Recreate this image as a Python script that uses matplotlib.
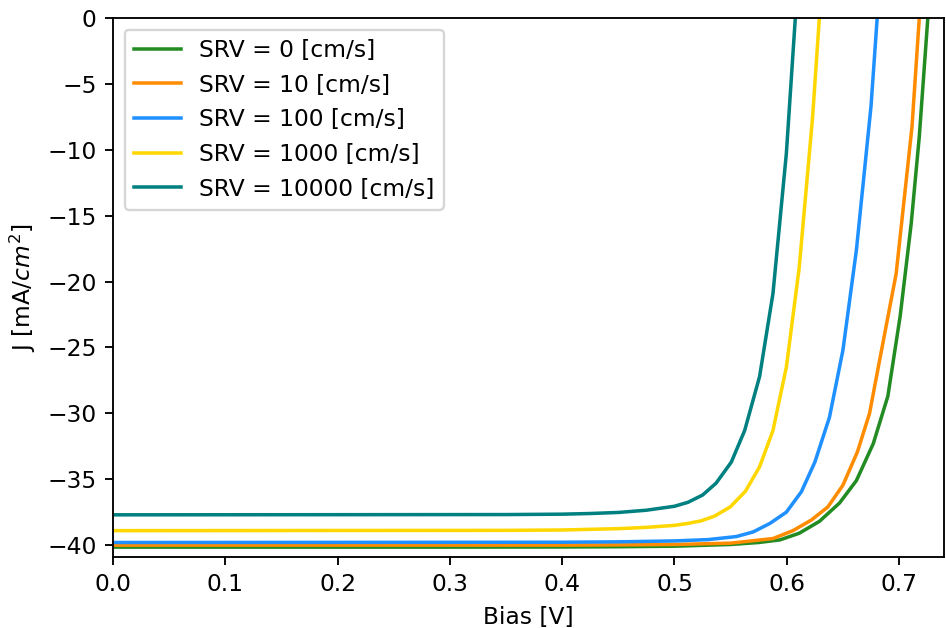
import numpy as np
import matplotlib
matplotlib.use("Agg")
import matplotlib.pyplot as plt

# J-V curves, one pair of lists per SRV value
srv_labels = ["SRV = 0 [cm/s]", "SRV = 10 [cm/s]", "SRV = 100 [cm/s]",
              "SRV = 1000 [cm/s]", "SRV = 10000 [cm/s]"]
colors = ["forestgreen", "darkorange", "dodgerblue", "gold", "teal"]

v_srv0 = [0.0, 0.3, 0.4, 0.45, 0.5, 0.55, 0.575, 0.594, 0.611, 0.629, 0.647, 0.662,
          0.677, 0.69, 0.701, 0.7108, 0.718, 0.7256]
j_srv0 = [-40.15, -40.15, -40.14, -40.12, -40.08, -39.95, -39.8, -39.6, -39.1, -38.2, -36.8, -35.1,
          -32.3, -28.7, -22.6, -15.6, -9.0, 0.0]

v_srv10 = [0.0, 0.4, 0.45, 0.5, 0.55, 0.5877, 0.6055, 0.6218, 0.6366, 0.65, 0.663,
           0.6737, 0.6826, 0.69, 0.6974, 0.7115, 0.718]
j_srv10 = [-40.0, -40.0, -39.98, -39.95, -39.85, -39.5, -38.9, -38.1, -37.1, -35.45, -32.9,
           -30.0, -26.0, -22.7, -19.4, -8.25, 0.0]

v_srv100 = [0.0, 0.4, 0.45, 0.5, 0.53, 0.555, 0.57, 0.585, 0.5996, 0.613, 0.625, 0.638,
            0.65, 0.662, 0.675, 0.6805]
j_srv100 = [-39.8, -39.78, -39.75, -39.68, -39.58, -39.35, -39.0, -38.35, -37.5, -35.95, -33.7, -30.3,
            -25.2, -17.6, -6.7, 0.0]

v_srv1000 = [0.0, 0.35, 0.4, 0.45, 0.475, 0.5, 0.512, 0.524, 0.5356, 0.5497, 0.5633, 0.5758, 0.5877,
             0.5996, 0.611, 0.623, 0.629]
j_srv1000 = [-38.9, -38.88, -38.85, -38.75, -38.65, -38.5, -38.35, -38.15, -37.8, -37.1, -35.9, -34.05,
             -31.3, -26.5, -19.0, -7.5, 0.0]

v_srv10000 = [0.0, 0.35, 0.4, 0.425, 0.45, 0.475, 0.5, 0.512, 0.525, 0.537, 0.5506, 0.5625, 0.5758,
              0.5877, 0.5996, 0.6076]
j_srv10000 = [-37.7, -37.68, -37.65, -37.6, -37.52, -37.35, -37.05, -36.75, -36.2, -35.3, -33.7, -31.3,
              -27.2, -20.9, -10.3, 0.0]

voltages = [v_srv0, v_srv10, v_srv100, v_srv1000, v_srv10000]
currents = [j_srv0, j_srv10, j_srv100, j_srv1000, j_srv10000]

dpi = 168
fig = plt.figure(figsize=(946 / dpi, 628 / dpi), dpi=dpi)
ax = fig.add_axes([113 / 946, 1 - 557 / 628, (944 - 113) / 946, (557 - 18) / 628])

for v, j, lab, c in zip(voltages, currents, srv_labels, colors):
    ax.plot(v, j, color=c, label=lab)

ax.set_xlim(0, 0.74)
ax.set_ylim(-40.9, 0)
ax.set_xlabel("Bias [V]")
ax.set_ylabel("J [mA/$cm^2$]")
ax.legend(loc="upper left")

plt.savefig("out.png", dpi=dpi)
